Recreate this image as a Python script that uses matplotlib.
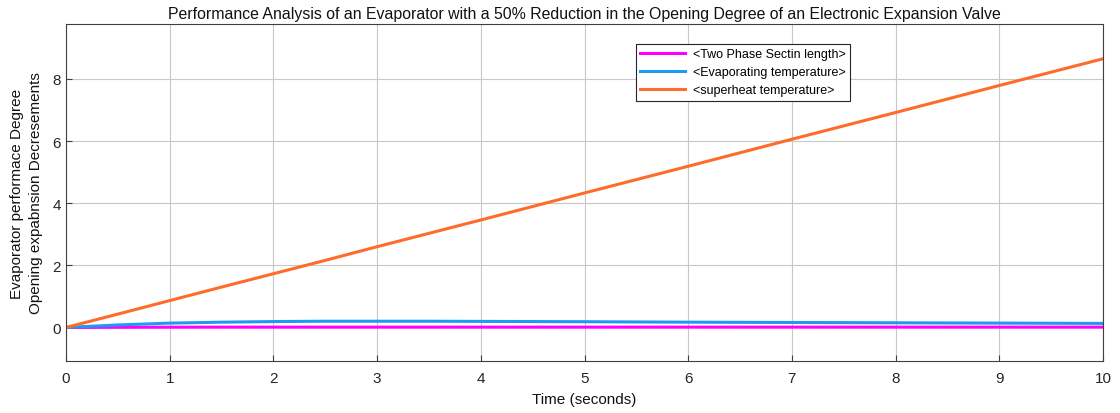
import matplotlib
matplotlib.use("Agg")
import matplotlib.pyplot as plt
import numpy as np

plt.rcParams['font.family'] = ['Liberation Sans', 'DejaVu Sans']

# Data
t = [0, 0.5, 1, 1.5, 2, 2.5, 3, 3.5, 4, 5, 6, 7, 8, 9, 10]
two_phase = [0, 0.005, 0.008, 0.01, 0.01, 0.01, 0.01, 0.01, 0.01, 0.01, 0.01, 0.01, 0.01, 0.01, 0.01]
evap_temp = [0, 0.08, 0.14, 0.17, 0.19, 0.2, 0.2, 0.2, 0.195, 0.185, 0.17, 0.16, 0.15, 0.14, 0.13]
superheat = [0, 0.43, 0.865, 1.3, 1.73, 2.16, 2.6, 3.03, 3.46, 4.33, 5.19, 6.06, 6.92, 7.79, 8.65]

series_labels = ['<Two Phase Sectin length>', '<Evaporating temperature>', '<superheat temperature>']
colors = ['#FF00FF', '#1E9BF0', '#FF6B2B']

fig = plt.figure(figsize=(11.2, 4.14), dpi=100)
ax = fig.add_axes([66/1120, 1-362/414, (1103-66)/1120, (362-25)/414])

for y, lab, c in zip([two_phase, evap_temp, superheat], series_labels, colors):
    ax.plot(t, y, color=c, lw=2.2, label=lab)

ax.set_xlim(0, 10)
ax.set_ylim(-1.08, 9.77)
ax.set_xticks(range(0, 11))
ax.set_yticks([0, 2, 4, 6, 8])
ax.grid(True, color='#c8c8c8', lw=0.8)
ax.set_axisbelow(True)
for s in ax.spines.values():
    s.set_color('#404040')
    s.set_linewidth(0.8)
ax.tick_params(direction='in', length=4, colors='#404040', labelsize=11, labelcolor='#262626')
ax.tick_params(axis='x', pad=7)

ax.set_title('Performance Analysis of an Evaporator with a 50% Reduction in the Opening Degree of an Electronic Expansion Valve',
             fontsize=11.4, color='#111111', pad=4)
ax.set_xlabel('Time (seconds)', fontsize=11, color='#111111', labelpad=5)
ax.set_ylabel('Evaporator performace Degree\nOpening expabnsion Decresements', fontsize=11, color='#111111',
              labelpad=7, linespacing=1.45)

leg = ax.legend(loc='upper left', bbox_to_anchor=((636-66)/1037, 1-(45-25)/337), fontsize=9,
                frameon=True, fancybox=False, edgecolor='#262626', framealpha=1, borderaxespad=0,
                handlelength=3.6, borderpad=0.35, labelspacing=0.48, handletextpad=0.6)
leg.get_frame().set_linewidth(0.8)

fig.savefig('out.png', dpi=100)
